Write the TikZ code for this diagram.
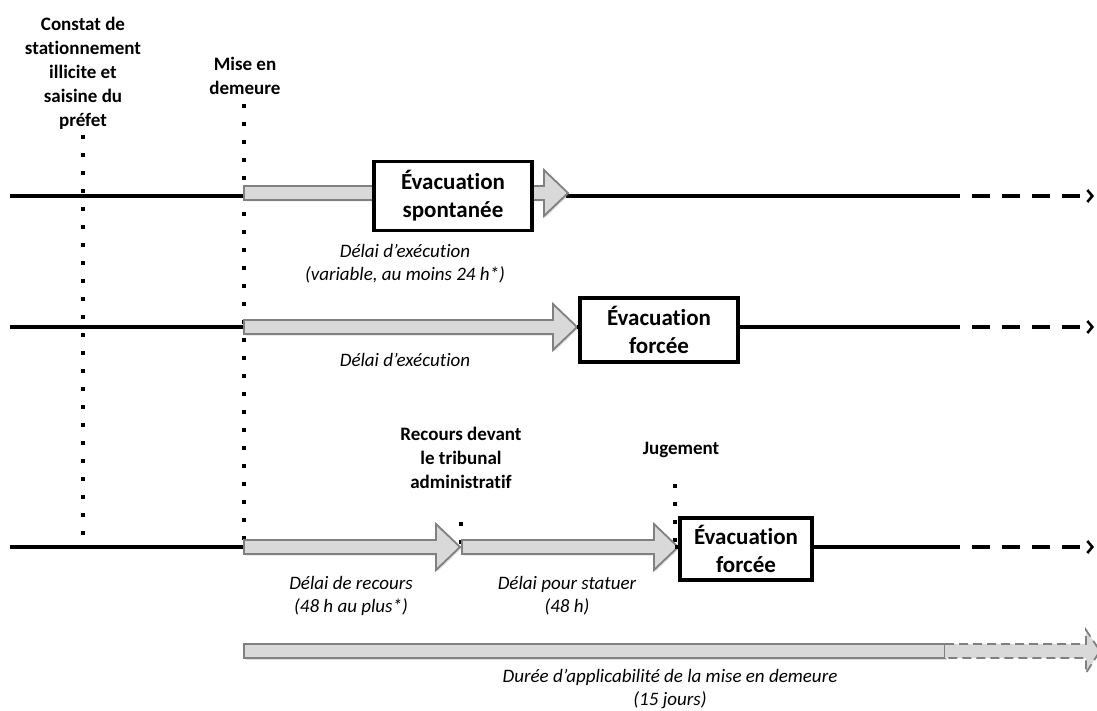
\documentclass[tikz,border=0pt]{standalone}
\usepackage{fontspec}
\setmainfont{Carlito}[Ligatures={NoCommon}]
\usetikzlibrary{arrows.meta,shadows}
\definecolor{afill}{HTML}{D9D9D9}
\definecolor{aline}{HTML}{808080}
\tikzset{
  tline/.style={line width=3.2pt,black},
  tdash/.style={line width=3.2pt,black,dash pattern=on 18pt off 12pt,-{Straight Barb[length=5pt,width=12pt,line width=2.6pt]}},
  vdots/.style={line width=3.8pt,black,dash pattern=on 3.8pt off 14.2pt},
  garrow/.style={fill=afill,draw=aline,line width=1.8pt,line join=miter,drop shadow={opacity=0.25,shadow xshift=1.5pt,shadow yshift=-1.5pt}},
  evbox/.style={draw,line width=3.2pt,fill=white,align=center,font=\bfseries\fontsize{23}{28}\selectfont,inner sep=0pt},
  blab/.style={align=center,font=\bfseries\fontsize{19}{24}\selectfont,inner sep=0pt},
  ilab/.style={align=center,font=\itshape\fontsize{19}{23}\selectfont,inner sep=0pt},
}
% gray block arrow: #1 start x, #2 tip x, #3 y
\newcommand\garr[3]{%
  \draw[garrow] (#1,#3-7) -- (#2-24,#3-7) -- (#2-24,#3-23) -- (#2,#3) -- (#2-24,#3+23) -- (#2-24,#3+7) -- (#1,#3+7) -- cycle;}
\begin{document}
\begin{tikzpicture}[x=1pt,y=-1pt]
\useasboundingbox (0,0) rectangle (1097,711);
% ---- vertical dotted markers
\coordinate (c1top) at (83,135);
\coordinate (c1bot) at (83,547);
\coordinate (c2top) at (244,104);
\coordinate (c2bot) at (244,547);
\coordinate (c3top) at (461,522);
\coordinate (c3bot) at (461,547);
\coordinate (c4top) at (675,484);
\coordinate (c4bot) at (675,547);
\draw[vdots] (c1top) -- (c1bot);
\draw[vdots] (c2top) -- (c2bot);
\draw[vdots] (c3top) -- (c3bot);
\draw[vdots] (c4top) -- (c4bot);
% ---- labels at top
\node[blab] (constat) at (83,73) {Constat de\\stationnement\\illicite et\\saisine du\\préfet};
\node[blab] (mise) at (245,76) {Mise en\\demeure};
\node[blab] (recours) at (461,458) {Recours devant\\le tribunal\\administratif};
\node[blab] (jug) at (681,450) {Jugement};
% ---- row 1
\coordinate (r1a) at (10,196);
\coordinate (r1b) at (244,196);
\coordinate (r1c) at (566,196);
\coordinate (r1d) at (942,196);
\coordinate (r1e) at (1094,196);
\draw[tline] (r1a) -- (r1b);
\draw[tline] (r1c) -- (r1d);
\draw[tdash] (r1d) -- (r1e);
\garr{244}{568}{193}
\node[evbox,minimum width=158pt,minimum height=69pt] (ev1) at (453,196) {Évacuation\\spontanée};
\node[ilab] (d1) at (405,264) {Délai d’exécution\\(variable, au moins 24 h*)};
% ---- row 2
\coordinate (r2a) at (10,327);
\coordinate (r2b) at (244,327);
\coordinate (r2d) at (942,327);
\coordinate (r2e) at (1094,327);
\draw[tline] (r2a) -- (r2b);
\garr{244}{577}{327}
\node[evbox,minimum width=158pt,minimum height=64pt] (ev2) at (659,330) {Évacuation\\forcée};
\draw[tline] (ev2.east |- r2d) -- (r2d);
\draw[tline] (r2b -| 577,0) -- (ev2.west |- r2b);
\draw[tdash] (r2d) -- (r2e);
\node[ilab] (d2) at (405,360) {Délai d’exécution};
% ---- row 3
\coordinate (r3a) at (10,547);
\coordinate (r3b) at (244,547);
\coordinate (r3d) at (942,547);
\coordinate (r3e) at (1094,547);
\draw[tline] (r3a) -- (r3b);
\garr{244}{460}{547}
\garr{462}{678}{547}
\node[evbox,minimum width=132pt,minimum height=62pt] (ev3) at (746,549) {Évacuation\\forcée};
\draw[tline] (ev3.east |- r3d) -- (r3d);
\draw[tline] (c4bot) -- (ev3.west |- r3b);
\draw[tdash] (r3d) -- (r3e);
\node[ilab] (d3) at (351,596) {Délai de recours\\(48 h au plus*)};
\node[ilab] (d4) at (567,596) {Délai pour statuer\\(48 h)};
% ---- row 4
\draw[garrow] (244,644) rectangle (945,658);
\draw[fill=afill,draw=aline,line width=1.8pt,dash pattern=on 9pt off 5pt]
  (945,644) -- (1086,644) -- (1086,630) -- (1100,651) -- (1086,673) -- (1086,658) -- (945,658);
\node[ilab] (d5) at (670,689) {Durée d’applicabilité de la mise en demeure\\(15 jours)};
\end{tikzpicture}
\end{document}
